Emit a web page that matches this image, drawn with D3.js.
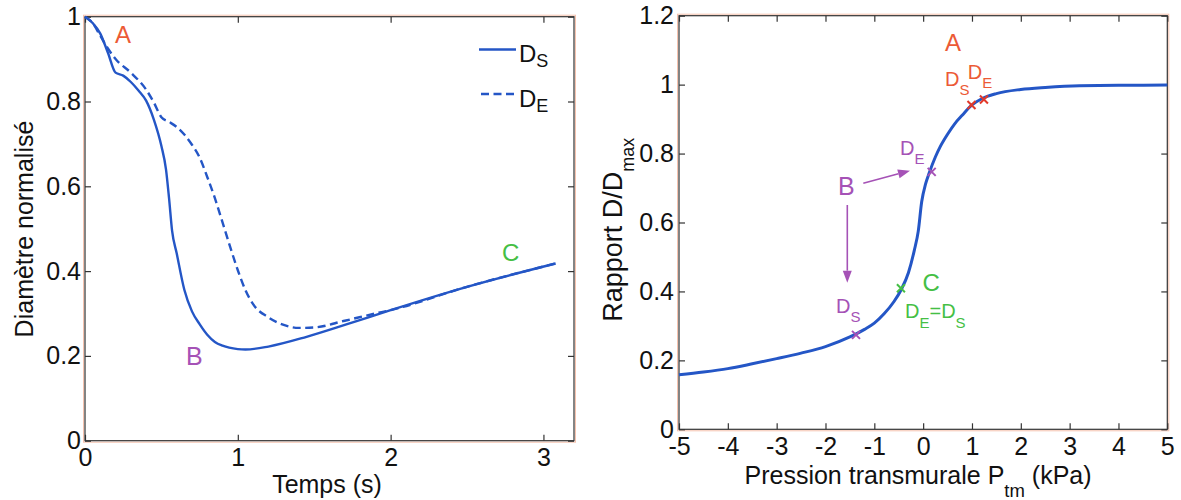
<!DOCTYPE html>
<html><head><meta charset="utf-8">
<script src="https://cdn.jsdelivr.net/npm/d3@7"></script>
<style>
html,body{margin:0;padding:0;background:#fff;}
svg{display:block;font-family:"Liberation Sans",Arial,sans-serif;}
</style></head>
<body>
<svg id="chart" width="1181" height="500"></svg>
<script>
// ---------- Data ----------
// Left panel: normalised diameter vs time
const timeDS  = [0,0.05,0.1,0.15,0.2,0.25,0.3,0.35,0.4,0.45,0.5,0.53,0.55,0.57,0.6,0.65,0.7,0.75,0.8,0.85,0.9,1.0,1.05,1.2,1.45,1.7,2.0,2.5,3.08];
const valDS   = [1.0,0.985,0.96,0.915,0.868,0.861,0.846,0.826,0.802,0.758,0.695,0.64,0.572,0.495,0.442,0.356,0.305,0.275,0.250,0.233,0.224,0.216,0.215,0.222,0.245,0.273,0.308,0.363,0.418];
const timeDE  = [0,0.05,0.1,0.15,0.2,0.3,0.4,0.45,0.5,0.55,0.6,0.65,0.7,0.75,0.8,0.85,0.9,0.95,1.0,1.05,1.1,1.2,1.3,1.4,1.5,1.7,1.9,2.0,2.5,3.08];
const valDE   = [1.0,0.985,0.955,0.925,0.90,0.868,0.828,0.798,0.763,0.752,0.740,0.722,0.698,0.668,0.622,0.572,0.515,0.457,0.402,0.355,0.322,0.291,0.273,0.266,0.267,0.283,0.300,0.308,0.363,0.418];
const leftXTicks = [0,1,2,3];
const leftYTicks = [0,0.2,0.4,0.6,0.8,1];
const leftXTickLabels = ["0","1","2","3"];
const leftYTickLabels = ["0","0.2","0.4","0.6","0.8","1"];

// Right panel: tube law D/Dmax vs transmural pressure
const pressure = [-5,-4.5,-4,-3.5,-3,-2.5,-2,-1.5,-1.2,-1,-0.8,-0.6,-0.45,-0.3,-0.18,-0.1,-0.03,0.05,0.12,0.25,0.35,0.5,0.65,0.8,1.0,1.2,1.5,2.0,2.5,3.2,4,5];
const ratio    = [0.158,0.166,0.176,0.190,0.205,0.221,0.240,0.268,0.290,0.308,0.335,0.370,0.405,0.455,0.520,0.575,0.660,0.712,0.742,0.790,0.820,0.856,0.887,0.911,0.941,0.959,0.974,0.986,0.992,0.997,0.998,0.999];
const rightXTicks = [-5,-4,-3,-2,-1,0,1,2,3,4,5];
const rightYTicks = [0,0.2,0.4,0.6,0.8,1,1.2];
const rightXTickLabels = ["-5","-4","-3","-2","-1","0","1","2","3","4","5"];
const rightYTickLabels = ["0","0.2","0.4","0.6","0.8","1","1.2"];

// state markers on the tube law curve
const markA = [[0.99,0.941],[1.245,0.957]];
const markB = [[0.175,0.747],[-1.375,0.274]];
const markC = [[-0.455,0.409]];

// ---------- Styles ----------
const BLUE = "#2456c6", RED = "#ec5a36", REDX = "#e23a2a", PURPLE = "#a552b6", GREEN = "#45bf45";
const svg = d3.select("#chart");

function drawPanel(o){
  const g = svg.append("g");
  const x = d3.scaleLinear().domain(o.xd).range([o.x0,o.x1]);
  const y = d3.scaleLinear().domain(o.yd).range([o.y0,o.y1]);
  // halo + box
  g.append("rect").attr("x",o.x0-1.5).attr("y",o.y1-1.5).attr("width",o.x1-o.x0+3).attr("height",o.y0-o.y1+3)
    .attr("fill","none").attr("stroke","#f6c2ae").attr("stroke-width",1);
  const axes = [
    [d3.axisBottom(x).tickValues(o.xt).tickFormat((d,i)=>o.xl[i]), `translate(0,${o.y0})`, true],
    [d3.axisTop(x).tickValues(o.xt).tickFormat(""), `translate(0,${o.y1})`, false],
    [d3.axisLeft(y).tickValues(o.yt).tickFormat((d,i)=>o.yl[i]), `translate(${o.x0},0)`, true],
    [d3.axisRight(y).tickValues(o.yt).tickFormat(""), `translate(${o.x1},0)`, false]
  ];
  axes.forEach(([ax,tr,lab],k)=>{
    ax.tickSizeInner(-6).tickSizeOuter(0).tickPadding(k===0?8:o.ypad);
    const a = g.append("g").attr("transform",tr).call(ax);
    a.select(".domain").remove();
    a.selectAll(".tick line").attr("stroke","#333").attr("stroke-width",1.2);
    a.selectAll(".tick text").attr("fill","#111").style("font-size","25px").attr("font-family",null);
  });
  g.append("rect").attr("x",o.x0).attr("y",o.y1).attr("width",o.x1-o.x0).attr("height",o.y0-o.y1)
    .attr("fill","none").attr("stroke","#333").attr("stroke-width",1.2);
  return {g,x,y};
}

function subText(g,x,y,parts,color,size,subSize,shift){
  const t = g.append("text").attr("x",x).attr("y",y).attr("fill",color).style("font-size",size+"px");
  let down=false;
  parts.forEach(p=>{
    const sub = p.startsWith("_");
    const s = t.append("tspan").text(sub?p.slice(1):p);
    if(sub){ s.style("font-size",subSize+"px"); if(!down){s.attr("dy",shift);down=true;} }
    else { s.style("font-size",size+"px"); if(down){s.attr("dy",-shift);down=false;} }
  });
  return t;
}

function cross(g,cx,cy,color){
  const r=4;
  g.append("path").attr("d",`M${cx-r},${cy-r}L${cx+r},${cy+r}M${cx-r},${cy+r}L${cx+r},${cy-r}`)
    .attr("stroke",color).attr("stroke-width",2).attr("fill","none");
}

// ---------- Left panel ----------
const L = drawPanel({x0:85,x1:574,y0:440.7,y1:16.7,xd:[0,3.2],yd:[0,1],xt:leftXTicks,yt:leftYTicks,xl:leftXTickLabels,yl:leftYTickLabels,ypad:4});
const lineL = d3.line().x(d=>L.x(d[0])).y(d=>L.y(d[1])).curve(d3.curveMonotoneX);
L.g.append("path").datum(d3.zip(timeDE,valDE)).attr("d",lineL).attr("fill","none")
  .attr("stroke",BLUE).attr("stroke-width",2.4).attr("stroke-dasharray","8,4.5");
L.g.append("path").datum(d3.zip(timeDS,valDS)).attr("d",lineL).attr("fill","none")
  .attr("stroke",BLUE).attr("stroke-width",2.4);

// legend
L.g.append("line").attr("x1",479).attr("x2",516).attr("y1",49.5).attr("y2",49.5).attr("stroke",BLUE).attr("stroke-width",2.4);
L.g.append("line").attr("x1",481).attr("x2",516).attr("y1",94).attr("y2",94).attr("stroke",BLUE).attr("stroke-width",2.4).attr("stroke-dasharray","8,4.5");
subText(L.g,519,62,["D","_S"],"#111",24,18,5);
subText(L.g,519,106.5,["D","_E"],"#111",24,18,5);

L.g.append("text").attr("x",115).attr("y",43).attr("fill",RED).style("font-size","24px").text("A");
L.g.append("text").attr("x",186).attr("y",365).attr("fill",PURPLE).style("font-size","25px").text("B");
L.g.append("text").attr("x",502).attr("y",261).attr("fill",GREEN).style("font-size","24px").text("C");

svg.append("text").attr("x",327).attr("y",493).attr("text-anchor","middle").attr("fill","#111")
  .style("font-size","25px").text("Temps (s)");
svg.append("text").attr("transform","translate(33,229) rotate(-90)").attr("text-anchor","middle").attr("fill","#111")
  .style("font-size","25px").text("Diamètre normalisé");

// ---------- Right panel ----------
const R = drawPanel({x0:679,x1:1167.3,y0:429.3,y1:15.7,xd:[-5,5],yd:[0,1.2],xt:rightXTicks,yt:rightYTicks,xl:rightXTickLabels,yl:rightYTickLabels,ypad:5});
const lineR = d3.line().x(d=>R.x(d[0])).y(d=>R.y(d[1])).curve(d3.curveMonotoneX);
R.g.append("path").datum(d3.zip(pressure,ratio)).attr("d",lineR).attr("fill","none")
  .attr("stroke",BLUE).attr("stroke-width",3);

markA.forEach(d=>cross(R.g,R.x(d[0]),R.y(d[1]),REDX));
markB.forEach(d=>cross(R.g,R.x(d[0]),R.y(d[1]),PURPLE));
markC.forEach(d=>cross(R.g,R.x(d[0]),R.y(d[1]),GREEN));

R.g.append("text").attr("x",945).attr("y",50.7).attr("fill",RED).style("font-size","24px").text("A");
subText(R.g,945,86,["D","_S"],RED,20,15,9);
subText(R.g,967.7,79.3,["D","_E"],RED,20,15,9);

R.g.append("text").attr("x",838).attr("y",195).attr("fill",PURPLE).style("font-size","25px").text("B");
subText(R.g,900,155,["D","_E"],PURPLE,20,15,9);
subText(R.g,836,313.3,["D","_S"],PURPLE,20,15,8.5);

R.g.append("text").attr("x",922.5).attr("y",290.7).attr("fill",GREEN).style("font-size","24px").text("C");
subText(R.g,905,318.3,["D","_E","=","D","_S"],GREEN,20,15,10);

// arrows
function arrow(g,x1,y1,x2,y2,color){
  const ang=Math.atan2(y2-y1,x2-x1), len=12, w=4.5;
  const bx=x2-len*Math.cos(ang), by=y2-len*Math.sin(ang);
  g.append("line").attr("x1",x1).attr("y1",y1).attr("x2",bx).attr("y2",by).attr("stroke",color).attr("stroke-width",1.6);
  const px=-Math.sin(ang)*w, py=Math.cos(ang)*w;
  g.append("path").attr("d",`M${x2},${y2}L${bx+px},${by+py}L${bx-px},${by-py}Z`).attr("fill",color);
}
arrow(R.g,863.3,183.3,910,170.7,PURPLE);
arrow(R.g,847.3,205,847.3,282.7,PURPLE);

// axis labels
const xl = svg.append("text").attr("x",744.5).attr("y",484).attr("fill","#111").style("font-size","25px");
xl.append("tspan").text("Pression transmurale P");
xl.append("tspan").attr("dy",13).style("font-size","18.5px").text("tm");
xl.append("tspan").attr("dy",-13).text(" (kPa)");

const yl = svg.append("text").attr("transform","translate(622,321.7) rotate(-90)").attr("fill","#111").style("font-size","27px");
yl.append("tspan").text("Rapport D/D");
yl.append("tspan").attr("dy",12).style("font-size","18px").text("max");
</script>
</body></html>
